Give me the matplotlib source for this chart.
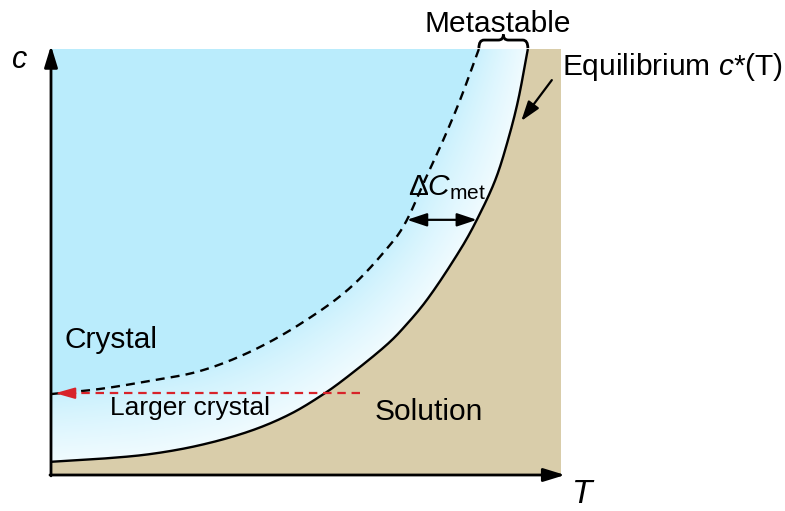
import numpy as np
import matplotlib
matplotlib.use("Agg")
import matplotlib.pyplot as plt
from matplotlib.path import Path
from matplotlib.patches import PathPatch, Polygon

# ---- data (T and c in arbitrary units 0..10) ----
T_eq = [0.00, 0.96, 1.94, 2.92, 3.90, 4.69, 5.37, 5.86, 6.51, 6.84, 7.37, 8.02, 8.35, 8.71, 8.96, 9.16, 9.35]
c_eq = [0.31, 0.38, 0.49, 0.70, 1.03, 1.43, 1.92, 2.35, 2.98, 3.36, 4.11, 5.28, 5.99, 6.92, 7.86, 8.80, 10.00]

T_met = [0.00, 0.96, 1.94, 2.92, 3.90, 4.88, 5.86, 6.71, 6.98, 7.33, 7.69, 8.02, 8.39]
c_met = [1.90, 2.02, 2.21, 2.44, 2.89, 3.54, 4.39, 5.49, 5.99, 6.92, 7.86, 8.80, 10.00]

c_red = 1.92            # level of the red "larger crystal" arrow
T_red = [6.05, 0.08]    # start / end of the red arrow
c_delta = 5.99          # level of the Delta C_met arrow

labels = {
    "crystal": "Crystal",
    "larger": "Larger crystal",
    "solution": "Solution",
    "meta": "Metastable",
    "equil": "Equilibrium $c$*(T)",
    "delta": r"$\mathit{\Delta C}_{\mathrm{met}}$",
    "xlab": "T",
    "ylab": "c",
}

# ---- style ----
plt.rcParams['font.family'] = ['Liberation Sans', 'DejaVu Sans']
plt.rcParams['mathtext.fontset'] = 'custom'
plt.rcParams['mathtext.rm'] = 'Liberation Sans'
plt.rcParams['mathtext.it'] = 'Liberation Sans:italic'
plt.rcParams['mathtext.bf'] = 'Liberation Sans:bold'

BLUE = np.array([186, 236, 252]) / 255
TAN = np.array([217, 205, 170]) / 255
NEAR_DASH = np.array([200, 240, 253]) / 255
NEAR_SOLID = np.array([240, 251, 255]) / 255

W, H = 785, 511
fig = plt.figure(figsize=(W / 100, H / 100), dpi=100)
ax = fig.add_axes([51 / W, (H - 475) / H, 510 / W, 426 / H])
ax.set_xlim(0, 10)
ax.set_ylim(0, 10)
ax.axis('off')

sx, sy = 51.0, 42.6  # pixel scale per data unit


def smooth_render(xs, ys, n=30):
    """Chord-length Catmull-Rom -> cubic Bezier through the read points (for drawing)."""
    P = np.column_stack([np.asarray(xs) * sx, np.asarray(ys) * sy])
    d = np.hypot(*np.diff(P, axis=0).T)
    m = len(P)
    Tg = np.zeros_like(P)
    for i in range(m):
        if i == 0:
            Tg[i] = (P[1] - P[0]) / d[0]
        elif i == m - 1:
            Tg[i] = (P[-1] - P[-2]) / d[-1]
        else:
            Tg[i] = (P[i + 1] - P[i - 1]) / (d[i - 1] + d[i])
    out = [P[0]]
    u = np.linspace(0, 1, n + 1)[1:, None]
    for i in range(m - 1):
        b0 = P[i]
        b1 = P[i] + Tg[i] * d[i] / 3
        b2 = P[i + 1] - Tg[i + 1] * d[i] / 3
        b3 = P[i + 1]
        seg = ((1 - u) ** 3) * b0 + 3 * ((1 - u) ** 2) * u * b1 + 3 * (1 - u) * u ** 2 * b2 + u ** 3 * b3
        out.extend(seg)
    out = np.array(out)
    return out[:, 0] / sx, out[:, 1] / sy


eqx, eqy = smooth_render(T_eq, c_eq)
mtx, mty = smooth_render(T_met, c_met)

# background blue (crystal region)
ax.add_patch(Polygon([(0, 0), (10, 0), (10, 10), (0, 10)], closed=True,
                     facecolor=BLUE, edgecolor='none', zorder=0))

# tan solution region under equilibrium curve
tan_pts = list(zip(eqx, eqy)) + [(10, 10), (10, 0), (0, 0)]
ax.add_patch(Polygon(tan_pts, closed=True, facecolor=TAN, edgecolor='none', zorder=1))

# gradient metastable region
meta_pts = list(zip(mtx, mty)) + list(zip(eqx[::-1], eqy[::-1]))
clip_poly = Polygon(meta_pts, closed=True, facecolor='none', edgecolor='none',
                    transform=ax.transData)
ax.add_patch(clip_poly)

N = 400
gx, gy = np.meshgrid(np.linspace(0, 10, N), np.linspace(0, 10, N))


def dist_to_poly(px, py, xs, ys):
    xs = np.asarray(xs)[::3] * sx
    ys = np.asarray(ys)[::3] * sy
    d = np.full(px.shape, np.inf)
    for i in range(len(xs) - 1):
        ax_, ay = xs[i], ys[i]
        vx, vy = xs[i + 1] - ax_, ys[i + 1] - ay
        L2 = vx * vx + vy * vy
        if L2 == 0:
            continue
        t = np.clip(((px - ax_) * vx + (py - ay) * vy) / L2, 0, 1)
        dx = px - (ax_ + t * vx)
        dy = py - (ay + t * vy)
        d = np.minimum(d, np.hypot(dx, dy))
    return d


PX, PY = gx * sx, gy * sy
dd = dist_to_poly(PX, PY, mtx, mty)
ds = dist_to_poly(PX, PY, eqx, eqy)
tt = (dd / (dd + ds + 1e-9)) ** 0.85
img = NEAR_DASH[None, None, :] * (1 - tt[..., None]) + NEAR_SOLID[None, None, :] * tt[..., None]
im = ax.imshow(img, extent=[0, 10, 0, 10], origin='lower', aspect='auto',
               interpolation='bilinear', zorder=2)
im.set_clip_path(clip_poly)

# curves
ax.plot(eqx, eqy, color='black', lw=1.7, zorder=5, solid_capstyle='butt')
ax.plot(mtx, mty, color='black', lw=1.7, dashes=(3.8, 2.6), zorder=5)

# axes arrows
arrow_kw = dict(arrowstyle='-|>,head_length=0.65,head_width=0.2',
                lw=2, color='black', mutation_scale=20, shrinkA=0, shrinkB=0)
ax.annotate('', xy=(0, 1.008), xytext=(0, -0.002), xycoords='axes fraction',
            textcoords='axes fraction', annotation_clip=False,
            arrowprops=arrow_kw, zorder=6)
ax.annotate('', xy=(1.008, 0), xytext=(-0.002, 0), xycoords='axes fraction',
            textcoords='axes fraction', annotation_clip=False,
            arrowprops=arrow_kw, zorder=6)

# red larger-crystal arrow
RED = '#d8232a'
ax.plot([T_red[0], T_red[1] + 0.3], [c_red, c_red], color=RED, lw=1.6,
        dashes=(3.8, 2.6), zorder=6)
ax.annotate('', xy=(T_red[1], c_red), xytext=(T_red[1] + 0.4, c_red),
            arrowprops=dict(arrowstyle='-|>,head_length=0.6,head_width=0.17',
                            lw=1.4, color=RED, mutation_scale=20,
                            shrinkA=0, shrinkB=0), zorder=7)

# Delta C_met double arrow
Td = np.interp(c_delta, c_met, T_met)
Ts = np.interp(c_delta, c_eq, T_eq)
ax.annotate('', xy=(Ts, c_delta), xytext=(Td, c_delta),
            arrowprops=dict(arrowstyle='<|-|>,head_length=0.6,head_width=0.2',
                            lw=1.6, color='black', mutation_scale=20,
                            shrinkA=0, shrinkB=0), zorder=7)

# equilibrium arrow
ax.annotate('', xy=(9.22, 8.31), xytext=(9.82, 9.27),
            arrowprops=dict(arrowstyle='-|>,head_length=0.6,head_width=0.2',
                            lw=1.6, color='black', mutation_scale=20,
                            shrinkA=0, shrinkB=0), zorder=7, annotation_clip=False)

# curly brace over metastable zone
x0, x1 = T_met[-1], T_eq[-1]
xm = 0.5 * (x0 + x1)
yb, yh, yp = 10.02, 10.21, 10.34
r = 0.1
verts = [(x0, yb), (x0, yh), (x0 + r, yh),
         (xm - r, yh),
         (xm, yh), (xm, yp),
         (xm, yh), (xm + r, yh),
         (x1 - r, yh),
         (x1, yh), (x1, yb)]
codes = [Path.MOVETO, Path.CURVE3, Path.CURVE3,
         Path.LINETO,
         Path.CURVE3, Path.CURVE3,
         Path.CURVE3, Path.CURVE3,
         Path.LINETO,
         Path.CURVE3, Path.CURVE3]
ax.add_patch(PathPatch(Path(verts, codes), facecolor='none', edgecolor='black',
                       lw=2, clip_on=False, zorder=7))

# texts
FS = 21.5
ax.text(0.27, 3.17, labels["crystal"], fontsize=FS, ha='left', va='center', zorder=8)
ax.text(1.16, 1.57, labels["larger"], fontsize=19, ha='left', va='center', zorder=8)
ax.text(6.35, 1.48, labels["solution"], fontsize=FS, ha='left', va='center', zorder=8)
ax.text(8.76, 10.40, labels["meta"], fontsize=FS, ha='center', va='baseline', zorder=8)
ax.text(10.02, 9.39, labels["equil"], fontsize=FS, ha='left', va='baseline', zorder=8)
ax.text(7.0, 6.57, labels["delta"], fontsize=FS, ha='left', va='baseline', zorder=8)
ax.text(-0.61, 9.74, labels["ylab"], fontsize=22, style='italic', ha='center',
        va='center', zorder=8)
ax.text(10.41, -0.66, labels["xlab"], fontsize=24, style='italic', ha='center',
        va='baseline', zorder=8)

fig.savefig('out.png', dpi=100)
